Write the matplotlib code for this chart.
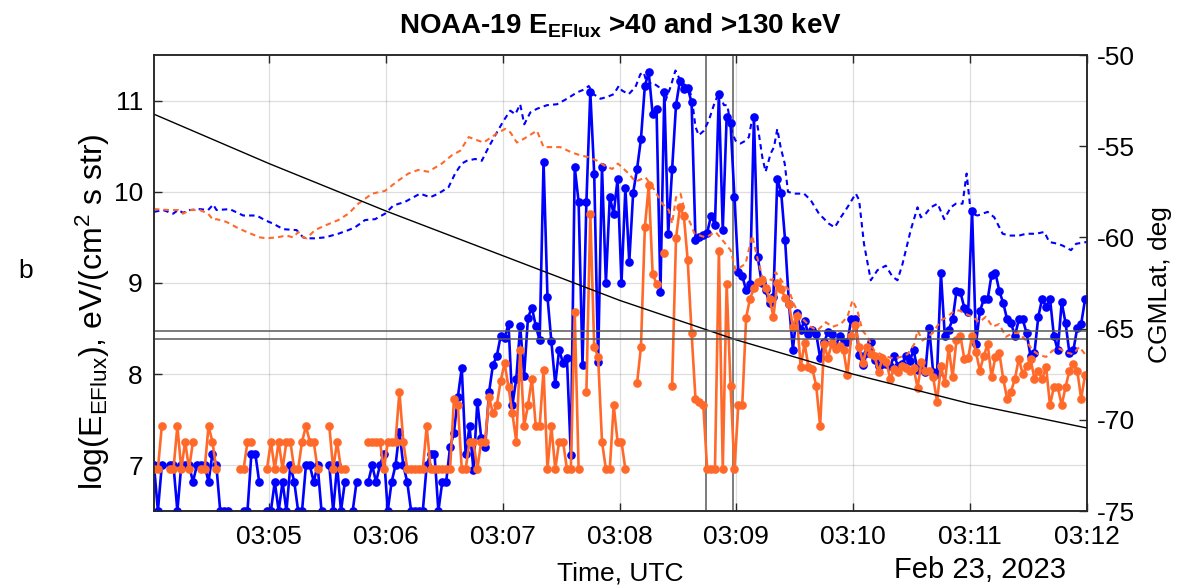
import numpy as np
import matplotlib
matplotlib.use("Agg")
import matplotlib.pyplot as plt

plt.rcParams["font.family"] = ["Liberation Sans", "DejaVu Sans"]
plt.rcParams["mathtext.default"] = "regular"
plt.rcParams["axes.unicode_minus"] = False

nan = np.nan

# ---------------------------------------------------------------- data
day_start = np.datetime64("2023-02-23T03:04:00")
first_sample_s = 1      # first 2-s sample at 03:04:01
cadence_s = 2

# log10 energy flux, >40 keV channel (2-s samples)
flux40 = [
    7.0, 6.5, 7.0, nan, 7.0, 7.0, 6.5, 7.0, 7.0, 7.0,
    6.82, 7.0, 7.0, 7.0, 6.82, 7.13, 7.0, 6.5, 6.5, 6.5,
    nan, nan, nan, 6.5, 6.5, 7.13, 7.13, 6.82, nan, 6.5,
    6.5, 6.82, 6.5, 6.82, 6.5, 7.0, 6.82, 6.5, 6.5, 7.0,
    7.0, 6.82, 7.0, 6.5, nan, 7.0, 6.5, 7.0, 6.5, 6.82,
    nan, 6.5, 6.82, nan, nan, 6.82, 7.0, 6.82, 7.0, 7.13,
    6.5, 6.82, 7.0, 7.37, 7.0, 6.82, 6.5, 6.5, 6.5, 6.5,
    7.0, 7.13, 7.13, 6.5, 6.82, 6.82, 7.2, 7.36, 7.75, 8.07,
    7.12, 7.43, 6.95, 7.7, 7.3, 7.2, 7.8, 8.1, 8.2, 8.42,
    8.4, 8.55, 7.66, 7.95, 8.53, 7.98, 8.62, 8.73, 8.53, 8.37,
    10.33, 8.85, 8.36, 7.89, 8.27, 8.12, 8.18, 7.11, 10.27, 9.89,
    8.10, 9.89, 11.09, 10.2, 8.13, 10.27, 9.0, 9.94, 9.76, 10.14,
    9.0, 10.04, 9.23, 9.99, 10.25, 10.58, 11.16, 11.31, 10.85, 10.91,
    8.9, 11.09, 9.54, 10.25, 10.95, 11.22, 11.13, 11.14, 10.98, 9.47,
    9.50, 9.53, 9.55, 9.74, 9.64, 11.07, 9.58, 10.82, 10.75, 9.94,
    9.12, 9.08, 8.92, 8.99, 10.82, 9.28, 9.0, 8.92, 8.78, 8.85,
    10.14, 9.99, 9.47, 8.77, 8.27, 8.67, 8.49, 8.58, 8.44, 8.49,
    8.44, 8.18, 8.35, 8.46, 8.44, 8.31, 8.42, 8.35, 8.35, 8.61,
    8.61, 8.21, 8.10, 8.23, 8.35, 8.16, 8.09, 8.11, 8.11, 8.09,
    8.20, 8.09, 8.11, 8.20, 8.15, 8.26, 8.05, 8.09, 8.02, 8.51,
    8.02, 8.0, 9.11, 8.42, 8.49, 8.6, 8.91, 8.9, 8.73, 8.68,
    9.79, 8.33, 8.69, 8.82, 8.82, 9.09, 9.11, 8.91, 8.78, 8.6,
    8.56, 8.42, 8.6, 8.6, 8.45, 8.2, 8.23, 8.63, 8.83, 8.74,
    8.83, 8.42, 8.26, 8.79, 8.56, 8.23, 8.26, 8.51, 8.55, 8.82,
]

# log10 energy flux, >130 keV channel (2-s samples)
flux130 = [
    6.96, 6.96, 7.43, nan, 6.96, 6.96, 7.43, 6.96, 7.26, 6.96,
    7.26, nan, 6.96, 6.96, 7.43, 7.26, 6.96, nan, nan, nan,
    nan, nan, 6.96, 6.96, 7.26, 7.26, nan, nan, nan, 6.96,
    7.26, 6.96, 7.26, 6.96, 7.26, 7.26, 6.96, 6.96, 7.26, 7.43,
    7.26, 7.26, 6.96, nan, nan, 7.43, 6.96, 7.26, 6.96, 6.96,
    nan, nan, nan, nan, nan, 7.26, 7.26, 7.26, 7.26, 6.96,
    7.26, 7.26, 7.26, 7.81, 7.26, 6.96, 6.96, 6.96, 6.96, 6.96,
    7.43, 6.96, 6.96, 6.96, 6.96, 6.96, 6.96, 7.73, 7.66, 6.96,
    6.96, 7.26, 7.26, 6.96, 7.26, 7.26, 7.75, 7.57, 7.66, 7.93,
    8.12, 7.86, 7.57, 7.26, 8.26, 7.43, 7.66, 7.95, 7.43, 7.43,
    8.05, 6.96, 7.43, 6.96, 7.26, 7.26, 6.96, 6.96, 8.68, 6.96,
    nan, 7.81, 9.76, 8.3, 8.19, 7.26, 6.96, 6.96, 7.66, 7.26,
    7.26, 6.96, nan, nan, 7.9, 8.3, 9.61, 10.07, 9.1, 8.99,
    nan, 9.33, nan, 7.87, 9.49, 9.83, 9.74, 9.25, 8.45, 7.73,
    7.7, 7.66, 6.96, 6.96, 6.96, 9.35, 6.96, 8.99, 7.87, 6.96,
    7.66, 7.66, 8.62, 8.83, 8.94, 9.01, 9.03, 8.94, 8.83, 8.63,
    9.0, 8.93, 8.84, 8.77, 8.52, 8.64, 8.08, 8.34, 8.08, 8.06,
    7.87, 7.43, 8.33, 8.18, 8.34, 8.28, 8.31, 8.26, 7.99, 8.42,
    8.54, 8.3, 8.12, 8.3, 8.22, 8.2, 8.02, 8.18, 8.13, 7.95,
    8.06, 8.02, 8.09, 8.07, 8.04, 8.07, 7.85, 8.13, 8.04, 8.04,
    7.97, 7.7, 8.09, 7.9, 8.29, 7.97, 8.38, 8.42, 8.17, 8.18,
    8.42, 8.24, 8.04, 8.2, 8.33, 7.97, 8.19, 8.23, 7.95, 7.73,
    7.81, 7.95, 8.17, 8.0, 8.09, 8.17, 7.95, 8.04, 7.95, 8.08,
    7.66, 7.86, 7.86, 7.66, 7.86, 8.04, 8.11, 8.04, 7.73, 7.99,
]

# reference (dashed) curves: seconds after 03:04:00 and log10 flux
ref40_sec = [
    1, 5.7, 10.8, 13.4, 15.9, 19.4, 24.5, 28.8, 31.4, 33.1,
    39.9, 46.8, 53.7, 57.9, 62.2, 67.4, 74.2, 77.6, 79.4, 83.6,
    88.8, 95.6, 100.8, 104.2, 109.3, 114.5, 119.6, 123.9, 129.9, 137.6,
    142.8, 147, 152.2, 155.6, 159, 161.6, 165.9, 169.3, 172.8, 177,
    180.5, 183.9, 186.5, 189, 191.1, 194.2, 197.6, 202.8, 207.9, 213,
    218.2, 221.6, 224.2, 226.7, 230.2, 233.6, 237, 239.6, 241.3, 244.7,
    248.2, 250.7, 252.4, 254.2, 256.7, 260.1, 263.6, 266.2, 268.7, 270.8,
    273, 275.6, 277.3, 279, 280.7, 283.3, 285.8, 288.4, 291, 293.6,
    295.3, 297.9, 299.6, 302.1, 304.7, 306.4, 308.5, 309.8, 311.5, 313.3,
    315, 317.6, 319.3, 321, 322.7, 324.8, 326.5, 329.5, 334.7, 338.1,
    342.4, 347.5, 350.5, 353.6, 357, 361.3, 363, 365.5, 369, 372.4,
    376.7, 380.1, 382.7, 385.3, 389.5, 393, 394.7, 397.2, 399.8, 403.3,
    406.7, 410.1, 412.7, 416.1, 418.2, 420.4, 423.8, 429, 432.4, 436.7,
    440.1, 445.2, 448.7, 453.8, 458.1, 460.6, 465, 467.5, 471.8, 474.4,
    480,
]
ref40 = [
    9.78, 9.80, 9.76, 9.80, 9.77, 9.80, 9.81, 9.80, 9.86, 9.80,
    9.81, 9.74, 9.74, 9.69, 9.65, 9.59, 9.58, 9.50, 9.49, 9.49,
    9.50, 9.54, 9.58, 9.61, 9.69, 9.70, 9.76, 9.85, 9.89, 9.98,
    9.94, 9.98, 10.05, 10.20, 10.31, 10.34, 10.36, 10.34, 10.49, 10.65,
    10.78, 10.89, 10.85, 10.96, 10.74, 10.87, 10.91, 10.95, 10.96, 11.02,
    11.09, 11.12, 11.16, 11.07, 11.02, 11.04, 11.07, 11.16, 11.11, 11.07,
    11.15, 11.29, 11.31, 11.18, 11.20, 11.15, 11.00, 11.15, 11.33, 11.24,
    11.18, 11.15, 11.00, 10.71, 10.62, 10.67, 10.78, 10.95, 11.09, 10.95,
    10.95, 10.64, 10.56, 10.53, 10.56, 10.60, 10.85, 10.85, 10.64, 10.38,
    10.22, 10.42, 10.49, 10.69, 10.49, 10.31, 10.00, 9.98, 9.98, 9.91,
    9.76, 9.65, 9.61, 9.72, 9.83, 9.98, 9.91, 9.43, 9.03, 9.14,
    9.19, 9.07, 9.03, 9.21, 9.58, 9.83, 9.72, 9.76, 9.83, 9.87,
    9.70, 9.83, 9.87, 9.87, 10.20, 9.76, 9.74, 9.78, 9.72, 9.54,
    9.52, 9.52, 9.54, 9.54, 9.56, 9.45, 9.43, 9.41, 9.36, 9.43,
    9.45,
]
ref130_sec = [
    1, 9.1, 13.4, 15.9, 19.4, 24.5, 28.8, 31.4, 33.1, 38.2,
    43.4, 48.5, 55.4, 58.8, 64, 69.1, 72.5, 75.1, 77.6, 79.4,
    83.6, 88.8, 95.6, 100.8, 105.9, 113, 119.6, 126.2, 131.6, 136.7,
    141.8, 148.8, 153.9, 158.2, 162.6, 170.2, 177, 181.3, 184, 187.3,
    190.8, 197.6, 201, 209.6, 215.6, 219.9, 224, 228.5, 232, 236.2,
    239.2, 244.7, 248.2, 253.3, 257.6, 261.9, 265.3, 267, 269, 271.3,
    273.9, 276.5, 278.5, 284.2, 289.3, 293.6, 297, 299.6, 304.7, 308.1,
    310.7, 313.3, 318.4, 320.1, 324.4, 327, 329.5, 332.1, 334.7, 338.1,
    341.6, 345.9, 349.3, 353.6, 357, 359.6, 362.1, 364.7, 367.3, 370.7,
    374.1, 377.6, 381, 384.4, 387.9, 391.3, 393, 395.6, 398.2, 400.7,
    405, 408.4, 411, 414.4, 417.8, 421.2, 424.7, 428.1, 431.5, 434.9,
    438.4, 441.8, 445.2, 448.7, 452.1, 455.5, 459, 462.4, 465.8, 469.2,
    472.7, 476.1, 480,
]
ref130 = [
    9.81, 9.80, 9.80, 9.76, 9.80, 9.80, 9.76, 9.69, 9.70, 9.67,
    9.61, 9.56, 9.50, 9.49, 9.50, 9.52, 9.50, 9.56, 9.50, 9.49,
    9.58, 9.63, 9.69, 9.76, 9.87, 9.98, 10.01, 10.12, 10.20, 10.24,
    10.22, 10.31, 10.40, 10.45, 10.60, 10.54, 10.64, 10.69, 10.65, 10.54,
    10.58, 10.67, 10.49, 10.49, 10.43, 10.40, 10.38, 10.34, 10.29, 10.25,
    10.31, 10.20, 10.11, 10.16, 10.03, 9.87, 9.80, 9.65, 9.94, 9.98,
    9.76, 9.65, 9.54, 9.50, 9.56, 9.45, 9.36, 9.14, 9.21, 9.52,
    9.28, 9.07, 9.03, 9.12, 8.99, 8.92, 8.77, 8.66, 8.59, 8.52,
    8.48, 8.57, 8.52, 8.55, 8.63, 8.81, 8.70, 8.48, 8.41, 8.26,
    8.22, 8.19, 8.17, 8.19, 8.22, 8.33, 8.48, 8.37, 8.41, 8.45,
    8.59, 8.63, 8.68, 8.70, 8.66, 8.63, 8.57, 8.63, 8.52, 8.55,
    8.41, 8.45, 8.45, 8.37, 8.26, 8.21, 8.19, 8.26, 8.28, 8.24,
    8.22, 8.30, 8.19,
]

# satellite footprint corrected geomagnetic latitude
lat_sec = [0, 60, 120, 180, 240, 300, 360, 420, 480]
lat_deg = [-53.2, -55.95, -58.55, -61.0, -63.45, -65.62, -67.5, -69.12, -70.45]

# boundary crossing: times (s after 03:04:00) and latitudes
boundary_sec = [284.5, 298.5]
boundary_lat = [-65.13, -65.59]

minute_ticks = ["03:05", "03:06", "03:07", "03:08", "03:09", "03:10", "03:11", "03:12"]

# ---------------------------------------------------------------- time axes
def to_time(sec):
    return day_start + (np.asarray(sec) * 1000).astype("timedelta64[ms]")

sample_times = to_time(first_sample_s + cadence_s * np.arange(len(flux40)))
t_ref40 = to_time(ref40_sec)
t_ref130 = to_time(ref130_sec)
t_lat = to_time(lat_sec)

BLUE = "#0000FF"
ORANGE = "#FF6A2A"
FRAME = "#262626"

fig = plt.figure(figsize=(11.78, 5.88), dpi=100)
ax = fig.add_axes([154 / 1178, 1 - 511 / 588, 933 / 1178, 456 / 588])
ax2 = ax.twinx()

ax.plot(sample_times, flux40, "-o", color=BLUE, lw=1.9, ms=5.2, zorder=3)
ax.plot(sample_times, flux130, "-o", color=ORANGE, lw=1.9, ms=5.2, zorder=4)
ax.plot(t_ref40, ref40, color=BLUE, lw=1.5, dashes=(2.6, 2.0), zorder=5)
ax.plot(t_ref130, ref130, color=ORANGE, lw=1.5, dashes=(2.6, 2.0), zorder=6)

for s in boundary_sec:
    ax.axvline(to_time(s), color="#595959", lw=1.1, zorder=2)

ax2.plot(t_lat, lat_deg, color="black", lw=1.0)
for lat in boundary_lat:
    ax2.axhline(lat, color="#595959", lw=1.1)

ax.set_xlim(to_time(first_sample_s), to_time(480))
ax.set_ylim(6.5, 11.5)
ax2.set_ylim(-75, -50)

tick_times = [to_time(60 * (k + 1)) for k in range(len(minute_ticks))]
ax.set_xticks(tick_times)
ax.set_xticklabels(minute_ticks)
ax.set_yticks([7, 8, 9, 10, 11])
ax.set_yticklabels(["7", "8", "9", "10", "11"])
ax2.set_yticks([-75, -70, -65, -60, -55, -50])
ax2.set_yticklabels(["-75", "-70", "-65", "-60", "-55", "-50"])

ax.grid(True, color="#262626", alpha=0.15, lw=0.9)
ax.set_axisbelow(True)

ax.tick_params(axis="x", direction="in", top=True, length=6, width=1.0,
               color=FRAME, labelsize=19, pad=10)
ax.tick_params(axis="y", direction="in", left=True, right=False, length=6,
               width=1.0, color=FRAME, labelsize=19, pad=8)
ax2.tick_params(axis="y", direction="in", right=True, length=6, width=1.0,
                color=FRAME, labelsize=19, pad=7)
for a in (ax, ax2):
    for sp in a.spines.values():
        sp.set_color(FRAME)
        sp.set_linewidth(1.1)

fig.text(620.5 / 1178, 1 - 33 / 588,
         r"NOAA-19 E$_{EFlux}$ >40 and >130 keV",
         ha="center", va="baseline", fontsize=20, fontweight="bold")
fig.text(93 / 1178, 1 - 312 / 588,
         r"log(E$_{EFlux}$), eV/(cm$^{2}$ s str)",
         rotation=90, ha="center", va="center", fontsize=23)
fig.text(1160 / 1178, 1 - 285 / 588, "CGMLat, deg",
         rotation=90, ha="center", va="center", fontsize=19)
fig.text(620.5 / 1178, 1 - 580 / 588, "Time, UTC",
         ha="center", va="baseline", fontsize=19)
fig.text(1066 / 1178, 1 - 578 / 588, "Feb 23, 2023",
         ha="right", va="baseline", fontsize=21)
fig.text(18 / 1178, 1 - 278 / 588, "b", ha="left", va="baseline", fontsize=19)

fig.savefig("out.png", dpi=100)
